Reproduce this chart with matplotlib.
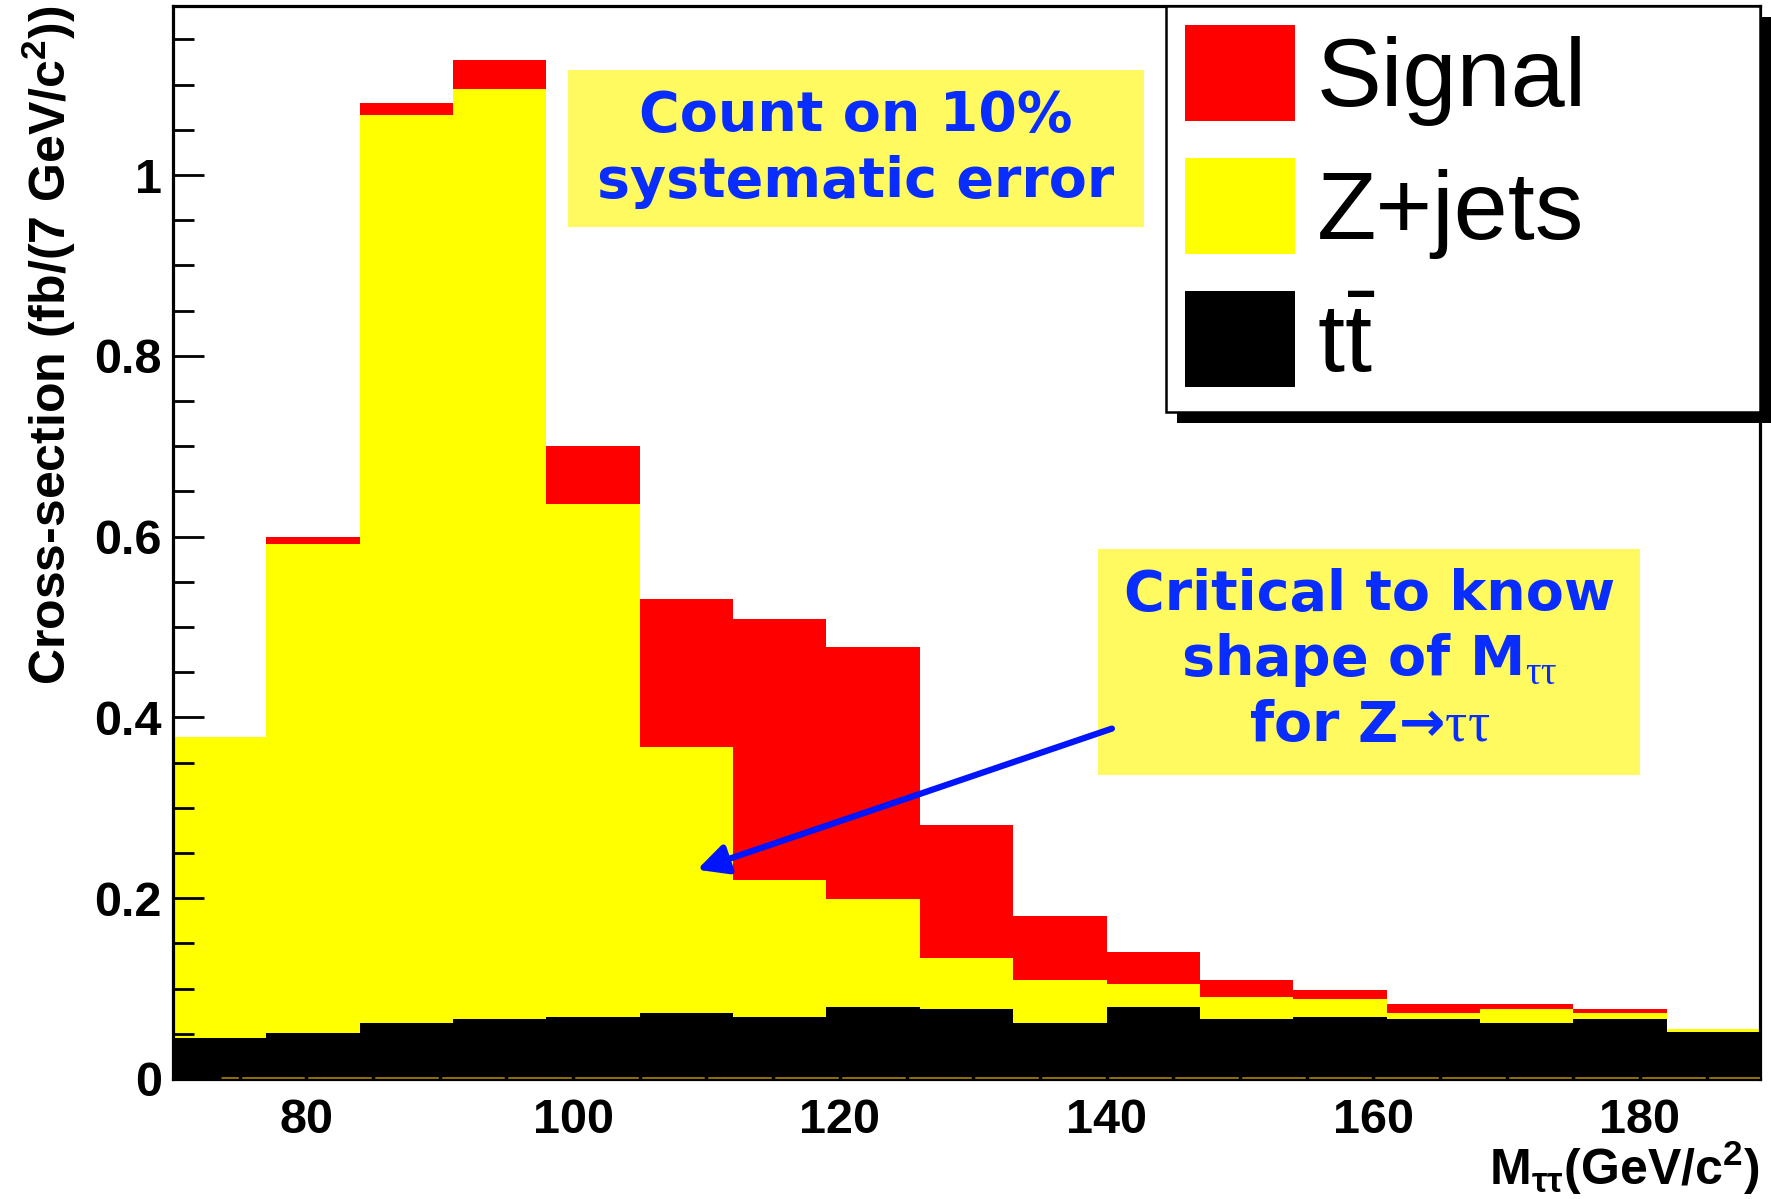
import numpy as np
import matplotlib
matplotlib.use('Agg')
import matplotlib.pyplot as plt
import matplotlib.patheffects as pe
from matplotlib.patches import Rectangle

# -------------------------------------------------------
# DATA (cross-section per 7 GeV bin, fb)
# -------------------------------------------------------
bin_edges = [70, 77, 84, 91, 98, 105, 112, 119, 126, 133,
             140, 147, 154, 161, 168, 175, 182, 189]
ttbar = [0.045, 0.051, 0.062, 0.066, 0.069, 0.073, 0.069, 0.080, 0.077,
         0.062, 0.080, 0.066, 0.069, 0.066, 0.062, 0.066, 0.052]
zjets = [0.333, 0.541, 1.004, 1.029, 0.567, 0.294, 0.151, 0.119, 0.057,
         0.047, 0.025, 0.025, 0.019, 0.007, 0.015, 0.007, 0.003]
signal = [0.000, 0.008, 0.014, 0.032, 0.064, 0.164, 0.289, 0.279, 0.147,
          0.071, 0.036, 0.018, 0.010, 0.010, 0.006, 0.004, 0.000]

x_ticks = [80, 100, 120, 140, 160, 180]
y_ticks = [0, 0.2, 0.4, 0.6, 0.8, 1.0]
y_tick_labels = ['0', '0.2', '0.4', '0.6', '0.8', '1']
legend_labels = ['Signal', 'Z+jets', r'$\mathrm{t\bar{t}}$']

BLUE = '#0A2DFF'
NOTE_BG = '#FFFA60'

plt.rcParams['font.family'] = 'Liberation Sans'
plt.rcParams['mathtext.fontset'] = 'custom'
plt.rcParams['mathtext.rm'] = 'Liberation Sans'
plt.rcParams['mathtext.bf'] = 'Liberation Sans:bold'
plt.rcParams['mathtext.sf'] = 'Liberation Serif'

fig = plt.figure(figsize=(17.71, 11.99), dpi=100)
ax = fig.add_axes([0.0977, 0.1001, 0.8961, 0.8949])

left = np.array(bin_edges[:-1])
width = np.diff(bin_edges)
tt = np.array(ttbar)
zj = np.array(zjets)
sg = np.array(signal)

b_tt = ax.bar(left, tt, width=width, align='edge', color='black', lw=0, zorder=1)
b_zj = ax.bar(left, zj, width=width, bottom=tt, align='edge', color='#FFFF00', lw=0, zorder=1)
b_sg = ax.bar(left, sg, width=width, bottom=tt + zj, align='edge', color='#FF0000', lw=0, zorder=1)

# olive line along the baseline (broken by the tick marks)
ax.hlines(0.0015, 73.6, bin_edges[-1], color='#8C6E00', lw=2.2, zorder=2.6)

ax.set_xlim(bin_edges[0], bin_edges[-1])
ax.set_ylim(0, 1.187)

ax.set_xticks(x_ticks)
ax.set_xticks(np.arange(75, 189, 5), minor=True)
ax.set_yticks(y_ticks)
ax.set_yticklabels(y_tick_labels)
ax.set_yticks(np.arange(0.05, 1.18, 0.05), minor=True)
ax.xaxis.set_zorder(3)

ax.tick_params(axis='both', which='both', direction='in', color='black')
ax.tick_params(axis='y', which='major', length=22, width=2.0, pad=8, labelsize=35)
ax.tick_params(axis='y', which='minor', length=15, width=2.0)
ax.tick_params(axis='x', which='major', length=22, width=2.5, pad=14, labelsize=35)
ax.tick_params(axis='x', which='minor', length=15, width=2.5)
for lab in ax.get_xticklabels() + ax.get_yticklabels():
    lab.set_fontweight('bold')

for sp in ax.spines.values():
    sp.set_linewidth(2.3)

ax.set_ylabel(r'Cross-section (fb/(7 GeV/c$^{\mathbf{2}}$))', fontsize=36,
              fontweight='bold', loc='top', labelpad=12)
ax.set_xlabel(r'M$_{\mathbf{\tau\tau}}$(GeV/c$^{\mathbf{2}}$)', fontsize=36,
              fontweight='bold', loc='right', labelpad=-3)

# legend
leg = ax.legend([b_sg, b_zj, b_tt], legend_labels, loc='upper left',
                bbox_to_anchor=(0.6257, 0.0, 0.3743, 1.0), mode='expand',
                borderaxespad=0, fontsize=70, handlelength=1.13,
                handleheight=1.14, handletextpad=0.22, labelspacing=0.33,
                borderpad=0.2, fancybox=False, framealpha=1)
leg.set_zorder(8)
frame = leg.get_frame()
frame.set_edgecolor('black')
frame.set_linewidth(1.8)
frame.set_path_effects([pe.SimplePatchShadow(offset=(8, -8), shadow_rgbFace='black', alpha=1),
                        pe.Normal()])

# annotation boxes (placed in figure fraction, drawn inside the axes)
ax.add_patch(Rectangle((0.3207, 0.8107), 0.3253, 0.1309, transform=fig.transFigure,
                       facecolor=NOTE_BG, edgecolor='none', zorder=5))
ax.text(0.4833, 0.8757, 'Count on 10%\nsystematic error', ha='center', va='center',
        transform=fig.transFigure, color=BLUE, fontsize=40, fontweight='bold',
        family='DejaVu Sans', linespacing=1.28, zorder=6)

ax.add_patch(Rectangle((0.620, 0.3536), 0.306, 0.1885, transform=fig.transFigure,
                       facecolor=NOTE_BG, edgecolor='none', zorder=5))
ax.text(0.7733, 0.4495,
        'Critical to know\n' + r'shape of M$_{\mathsf{\tau\tau}}$' + '\n'
        + 'for Z\u2192' + r'$\mathsf{\tau\tau}$',
        ha='center', va='center', transform=fig.transFigure, color=BLUE,
        fontsize=40, fontweight='bold', family='DejaVu Sans',
        linespacing=1.22, zorder=6)

ax.annotate('', xy=(109.3, 0.2315), xytext=(140.4, 0.3876),
            arrowprops=dict(arrowstyle='-|>', lw=4.5, color='#0014FF',
                            mutation_scale=45, shrinkA=0, shrinkB=0), zorder=7)

fig.savefig('out.png', dpi=100)
